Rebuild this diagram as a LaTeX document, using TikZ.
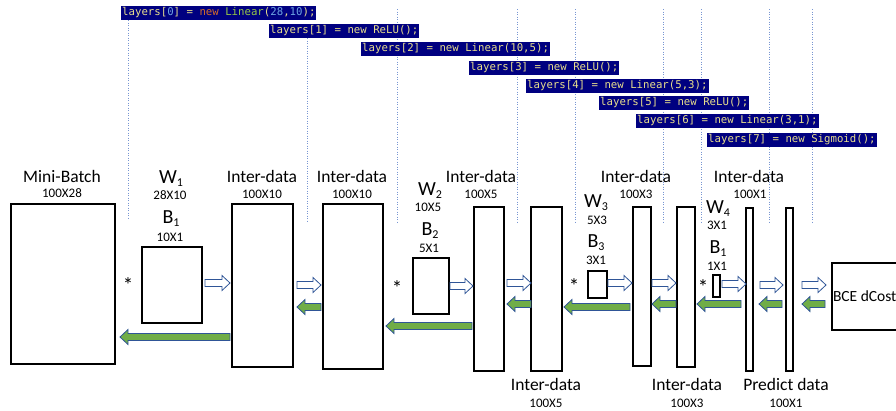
\documentclass[tikz,border=0pt]{standalone}
\usepackage{fontspec}
\setmainfont{Carlito}
\newfontfamily\codefont{DejaVu Sans Mono}
\usetikzlibrary{calc}

\definecolor{navyhl}{RGB}{0,0,128}
\definecolor{codeyel}{RGB}{232,222,140}
\definecolor{codegrn}{RGB}{150,200,70}
\definecolor{codeorg}{RGB}{215,110,40}
\definecolor{codenum}{RGB}{110,165,225}
\definecolor{guide}{RGB}{120,150,210}
\definecolor{arrowedge}{RGB}{47,85,151}
\definecolor{backfill}{RGB}{112,173,71}

% block arrow: style, from anchor, x offset, to anchor, x offset, y position
\newcommand\blockarr[6]{%
  \path[#1] let \p1=(#2), \p2=(#4), \p3=(0,#6),
    \n1={\x1+(#3pt)}, \n2={\x2+(#5pt)}, \n3={ifthenelse(\n2>\n1,1,-1)} in
    ({\n1},{\y3+3.5pt}) -- ({\n2-\n3*8pt},{\y3+3.5pt}) -- ({\n2-\n3*8pt},{\y3+7.5pt})
    -- ({\n2},{\y3}) -- ({\n2-\n3*8pt},{\y3-7.5pt}) -- ({\n2-\n3*8pt},{\y3-3.5pt})
    -- ({\n1},{\y3-3.5pt}) -- cycle;}

\newcommand\subidx[2]{#1\raisebox{-3.5pt}{\fontsize{12}{12}\selectfont #2}}

\begin{document}
\begin{tikzpicture}[x=1pt,y=-1pt,
  tensor/.style={draw=black, line width=1.6pt, fill=white, inner sep=0pt, outer sep=0pt, anchor=north west},
  codeline/.style={fill=navyhl, text=codeyel, font=\codefont\fontsize{10.7}{12}\selectfont,
    inner xsep=1pt, inner ysep=0pt, minimum height=14pt, anchor=west},
  guideline/.style={draw=guide, line width=0.7pt, dash pattern=on 1.2pt off 1.3pt},
  fwd/.style={draw=arrowedge, fill=white, line width=0.8pt},
  bwd/.style={draw=arrowedge, fill=backfill, line width=0.8pt},
  title/.style={font=\fontsize{17.5}{20}\selectfont, inner sep=0pt},
  dims/.style={font=\fontsize{13}{15}\selectfont, inner sep=0pt},
  wlab/.style={font=\fontsize{20}{22}\selectfont, inner sep=0pt, anchor=base},
  star/.style={font=\fontsize{21}{22}\selectfont, inner sep=0pt, anchor=base}]

\useasboundingbox (0,0) rectangle (896,410);
\clip (0,0) rectangle (896,410);

% layer boundaries
\draw[guideline] (128,20) -- (128,219);
\draw[guideline] (307,38) -- (307,222);
\foreach \gx in {397,517,575,663,701,769,812}
  \draw[guideline] (\gx,9) -- (\gx,222);

% layer definitions
\node[codeline] (c0) at (121,13) {layers[\textcolor{codenum}{0}] = \textcolor{codeorg}{new} \textcolor{codegrn}{Linear}(\textcolor{codenum}{28},\textcolor{codenum}{10});};
\node[codeline] (c1) at (269,31) {layers[1] = new ReLU();};
\node[codeline] (c2) at (361,49) {layers[2] = new Linear(10,5);};
\node[codeline] (c3) at (469,67.5) {layers[3] = new ReLU();};
\node[codeline] (c4) at (526,85.5) {layers[4] = new Linear(5,3);};
\node[codeline] (c5) at (599,102.5) {layers[5] = new ReLU();};
\node[codeline] (c6) at (636,120.5) {layers[6] = new Linear(3,1);};
\node[codeline] (c7) at (707,139.5) {layers[7] = new Sigmoid();};

% data and parameter blocks
\node[tensor, minimum width=104pt, minimum height=160pt] (mb) at (11,204) {};
\node[tensor, minimum width=60pt, minimum height=76pt] (w1) at (142,247) {};
\node[tensor, minimum width=61pt, minimum height=163pt] (i1) at (232,204) {};
\node[tensor, minimum width=60pt, minimum height=165pt] (i2) at (323,204) {};
\node[tensor, minimum width=36pt, minimum height=56pt] (w2) at (413,258) {};
\node[tensor, minimum width=30pt, minimum height=164pt] (i3) at (474,207) {};
\node[tensor, minimum width=31pt, minimum height=164pt] (i4) at (531,207) {};
\node[tensor, minimum width=19pt, minimum height=27pt] (w3) at (588,271) {};
\node[tensor, minimum width=18pt, minimum height=159pt] (i5) at (633,207) {};
\node[tensor, minimum width=18pt, minimum height=160pt] (i6) at (677,207) {};
\node[tensor, minimum width=7pt, minimum height=22pt] (w4) at (713,275) {};
\node[tensor, minimum width=7pt, minimum height=163pt] (p1) at (746,208) {};
\node[tensor, minimum width=7pt, minimum height=163pt] (p2) at (786,208) {};
\node[tensor, minimum width=70pt, minimum height=67pt, inner xsep=1pt,
  font=\fontsize{15.5}{18}\selectfont, align=left] (bce) at (832,263) {BCE dCost\hspace{7pt}};

% forward pass
\blockarr{fwd}{w1.east}{3}{i1.west}{-2}{283}
\blockarr{fwd}{i1.east}{4}{i2.west}{-2}{285}
\blockarr{fwd}{w2.east}{1}{i3.west}{-1}{286}
\blockarr{fwd}{i3.east}{3}{i4.west}{0}{283}
\blockarr{fwd}{w3.east}{1}{i5.west}{-1}{283}
\blockarr{fwd}{i5.east}{1}{i6.west}{-1}{283}
\blockarr{fwd}{w4.east}{2}{p1.west}{0}{284}
\blockarr{fwd}{p1.east}{7}{p2.west}{-3}{285}
\blockarr{fwd}{p2.east}{9}{bce.west}{-6}{285}

% backward pass
\blockarr{bwd}{i1.west}{-2}{mb.east}{5}{337}
\blockarr{bwd}{i2.west}{-2}{i1.east}{4}{307}
\blockarr{bwd}{i3.west}{-2}{i2.east}{3}{326}
\blockarr{bwd}{i4.west}{0}{i3.east}{3}{304}
\blockarr{bwd}{i5.west}{-3}{i4.east}{2}{307}
\blockarr{bwd}{i6.west}{-1}{i5.east}{1}{304}
\blockarr{bwd}{p1.west}{-5}{i6.east}{2}{304}
\blockarr{bwd}{p2.west}{-4}{p1.east}{6}{304}
\blockarr{bwd}{bce.west}{-7}{p2.east}{9}{304}

% multiplication signs
\node[star] (s1) at (128,292) {*};
\node[star] (s2) at (397,295) {*};
\node[star] (s3) at (574,293) {*};
\node[star] (s4) at (703,294) {*};

% block labels
\node[title] (tmb) at (62,176) {Mini-Batch};
\node[dims]  (dmb) at (62,193) {100X28};
\node[title] (ti1) at (262,176) {Inter-data};
\node[dims]  (di1) at (262,194) {100X10};
\node[title] (ti2) at (352,176) {Inter-data};
\node[dims]  (di2) at (352,194) {100X10};
\node[title] (ti3) at (481,176) {Inter-data};
\node[dims]  (di3) at (481,194) {100X5};
\node[title] (ti4) at (546,384) {Inter-data};
\node[dims]  (di4) at (546,403) {100X5};
\node[title] (ti5) at (636,176) {Inter-data};
\node[dims]  (di5) at (636,194) {100X3};
\node[title] (ti6) at (687,384) {Inter-data};
\node[dims]  (di6) at (687,403) {100X3};
\node[title] (tp1) at (749,176) {Inter-data};
\node[dims]  (dp1) at (750,194) {100X1};
\node[title] (tp2) at (786,384) {Predict data};
\node[dims]  (dp2) at (786,403) {100X1};

% weight and bias labels
\node[wlab] (lw1) at (171,183) {\subidx{W}{1}};
\node[dims] (dw1) at (170,195) {28X10};
\node[wlab] (lb1) at (171,223) {\subidx{B}{1}};
\node[dims] (db1) at (170,237) {10X1};
\node[wlab] (lw2) at (430,195) {\subidx{W}{2}};
\node[dims] (dw2) at (428,207) {10X5};
\node[wlab] (lb2) at (430,235) {\subidx{B}{2}};
\node[dims] (db2) at (429,248) {5X1};
\node[wlab] (lw3) at (596,207) {\subidx{W}{3}};
\node[dims] (dw3) at (597,220) {5X3};
\node[wlab] (lb3) at (596,247) {\subidx{B}{3}};
\node[dims] (db3) at (596,260) {3X1};
\node[wlab] (lw4) at (718,213) {\subidx{W}{4}};
\node[dims] (dw4) at (717,225) {3X1};
\node[wlab] (lb4) at (718,253) {\subidx{B}{1}};
\node[dims] (db4) at (717,266) {1X1};

\end{tikzpicture}
\end{document}
